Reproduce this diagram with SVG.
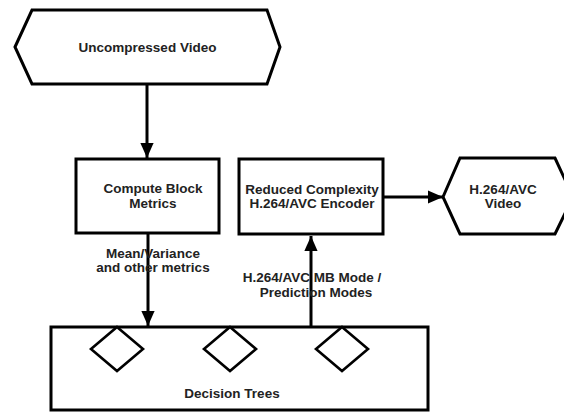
<svg xmlns="http://www.w3.org/2000/svg" width="564" height="412" viewBox="0 0 564 412">
  <defs>
    <marker id="arrow" markerWidth="5" markerHeight="4.4" refX="5" refY="2.2" orient="auto" markerUnits="strokeWidth">
      <path d="M0,0 L5,2.2 L0,4.4 Z" fill="#000"/>
    </marker>
  </defs>
  <style>
    .shape { fill: #fff; stroke: #000; stroke-width: 3; stroke-linejoin: miter; }
    .diamond { fill: #fff; stroke: #000; stroke-width: 2.6; }
    .edge { fill: none; stroke: #000; stroke-width: 3; marker-end: url(#arrow); }
    text { font-family: "Liberation Sans", Arial, sans-serif; font-weight: bold; font-size: 13.5px; fill: #222; text-anchor: middle; dominant-baseline: central; }
  </style>
  <rect width="564" height="412" fill="#fff"/>

  <g id="uncompressed-video">
    <polygon class="shape" points="15,47 32,10 267,10 280,47 267,84 32,84"/>
    <text x="147.5" y="47">Uncompressed Video</text>
  </g>

  <g id="compute-block-metrics">
    <rect class="shape" x="76" y="159" width="143" height="74"/>
    <text x="153" y="188">Compute Block</text>
    <text x="153" y="203">Metrics</text>
  </g>

  <g id="encoder">
    <rect class="shape" x="239" y="159" width="144" height="75"/>
    <text x="312" y="189">Reduced Complexity</text>
    <text x="312" y="203">H.264/AVC Encoder</text>
  </g>

  <g id="h264-video">
    <polygon class="shape" points="443,197 460,158 555,158 573,197 555,234 460,234"/>
    <text x="503" y="189">H.264/AVC</text>
    <text x="503" y="203">Video</text>
  </g>

  <g id="decision-trees">
    <rect class="shape" x="51" y="327" width="377" height="83"/>
    <polygon class="diamond" points="117,327 143,349 117,371 91,349"/>
    <polygon class="diamond" points="230,327 256,349 230,371 204,349"/>
    <polygon class="diamond" points="342,327 368,349 342,371 316,349"/>
    <text x="232" y="393">Decision Trees</text>
  </g>

  <g id="connectors">
    <line class="edge" x1="147" y1="84" x2="147" y2="158"/>
    <line class="edge" x1="383" y1="197" x2="443" y2="197"/>
    <line class="edge" x1="148" y1="233" x2="148" y2="326"/>
    <line class="edge" x1="311" y1="327" x2="311" y2="236"/>
    <text x="153" y="253">Mean/Variance</text>
    <text x="153" y="267">and other metrics</text>
    <text x="312" y="277">H.264/AVC MB Mode /</text>
    <text x="316" y="292">Prediction Modes</text>
  </g>
</svg>
